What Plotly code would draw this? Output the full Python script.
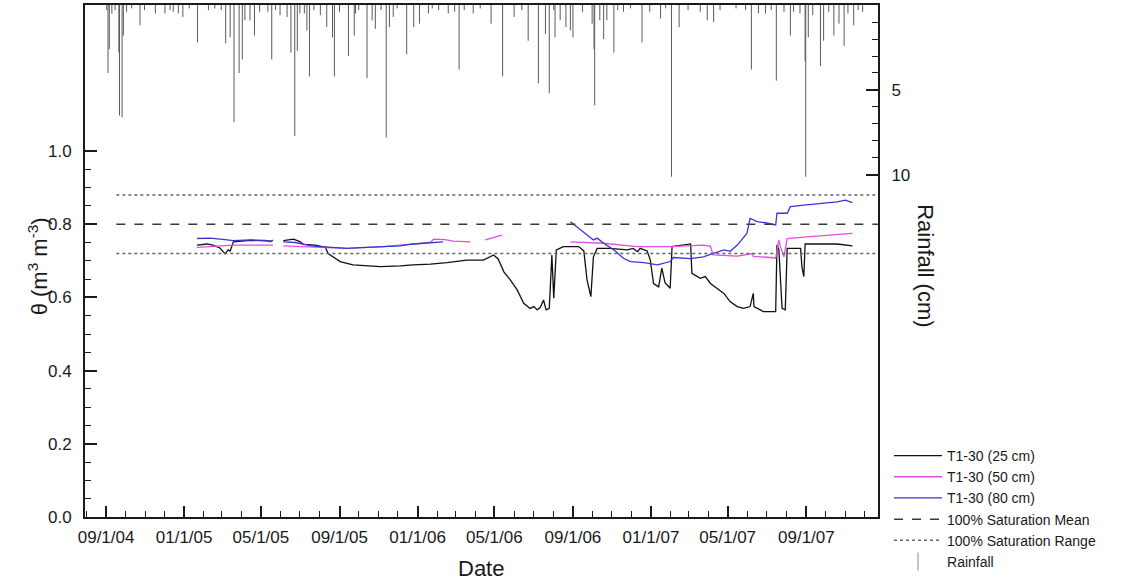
import pandas as pd
import plotly.graph_objects as go

BASE = pd.Timestamp("2004-09-01")  # day 0 of the day-offset arrays

# ---- soil water content, T1-30 (day offset from 09/1/04, theta m3/m3) ----
black_days = [142,158,167,178,186,191,194,199,225,260,269,277,293,304,308,327,343,347,357,366,
              386,429,460,480,507,533,564,590,606,613,622,632,643,653,663,669,674,679,684,688,
              693,697,700,704,715,739,747,752,758,762,768,788,815,824,831,835,846,851,856,864,
              869,874,882,885,914,916,929,937,945,955,966,976,987,997,1007,1012,1013,1028,1047,1049,
              1052,1057,1062,1065,1086,1088,1091,1093,1143,1167]
black_vals = [0.743,0.746,0.743,0.735,0.719,0.730,0.727,0.752,0.756,0.754,None,0.755,0.759,0.752,0.745,0.743,0.737,0.720,0.708,0.698,
              0.689,0.684,0.686,0.689,0.691,0.695,0.702,0.702,0.716,0.705,0.670,0.648,0.620,0.584,0.570,0.575,0.566,0.573,0.593,0.566,
              0.570,0.716,0.598,0.730,0.739,0.739,0.727,0.648,0.602,0.711,0.734,0.734,0.730,0.734,0.725,0.734,0.727,0.702,0.638,0.629,
              0.680,0.640,0.625,0.739,0.746,0.666,0.652,0.657,0.638,0.625,0.611,0.588,0.575,0.570,0.575,0.611,0.575,0.561,0.561,0.743,
              0.730,0.570,0.566,0.734,0.734,0.684,0.657,0.746,0.746,0.741]

magenta_days = [142,171,199,261,269,277,324,377,429,480,507,512,530,543,569,580,593,619,680,
                726,778,830,882,934,945,949,987,1011,1012,1039,1047,1052,1054,1060,1065,1091,1143,1167]
magenta_vals = [0.737,0.740,0.743,0.743,None,0.741,0.738,0.734,0.738,0.747,0.750,0.759,0.758,0.754,0.752,None,0.757,0.770,None,
                0.752,0.748,0.739,0.739,0.743,0.740,0.716,0.713,0.720,0.712,0.709,0.707,0.757,0.740,0.711,0.761,0.765,0.773,0.775]

blue_days = [142,163,186,199,225,249,257,261,269,277,296,324,350,377,397,429,460,480,507,527,600,
             726,742,762,768,778,794,809,820,841,862,882,887,914,934,966,976,987,1002,1007,1018,
             1031,1047,1049,1065,1070,1091,1117,1143,1156,1167]
blue_vals = [0.761,0.762,0.758,0.755,0.757,0.756,0.752,0.757,None,0.752,0.750,0.740,0.737,0.734,0.736,0.738,0.741,0.746,0.749,0.752,None,
             0.807,0.784,0.757,0.762,0.748,0.730,0.707,0.698,0.695,0.689,0.698,0.709,0.706,0.711,0.730,0.726,0.743,0.775,0.816,0.807,
             0.804,0.798,0.830,0.830,0.848,0.852,0.857,0.861,0.866,0.859]

# ---- saturation reference ----
sat_days = [16, 1208]
sat_mean = 0.80
sat_low, sat_high = 0.72, 0.88

# ---- rainfall (day offset, cm) ----
rain_days = [3,5,9,20,21,25,27,53,77,92,105,113,120,143,187,194,200,208,213,217,225,232,253,259,272,283,289,295,299,303,
             314,318,335,345,354,357,379,388,390,408,416,421,438,443,449,470,481,490,504,535,552,574,602,620,638,660,676,687,693,702,
             710,719,726,730,760,763,764,772,778,783,794,809,838,867,884,896,929,940,950,1009,1020,1031,1048,1070,1075,1093,1094,1098,1117,1122,
             1138,1146,1154,1169,1183,
             1,14,32,40,60,100,130,160,170,180,240,265,310,325,365,395,430,455,510,520,545,560,585,650,700,745,800,820,850,875,
             910,960,985,1000,1040,1060,1085,1105,1130,1160,1176]
rain_cm = [4.0,2.6,0.5,2.8,6.5,6.6,1.8,1.2,0.5,0.5,0.4,0.5,0.7,2.2,2.25,1.9,6.9,4.0,3.2,0.9,0.9,1.8,0.4,3.2,0.6,0.7,2.8,7.7,2.7,0.5,
           1.5,4.2,0.6,1.3,1.9,4.2,3.0,1.8,0.5,4.3,0.9,1.4,7.8,1.3,0.7,2.9,1.3,1.1,0.5,0.5,3.8,0.5,1.1,4.2,0.7,2.1,4.6,1.7,5.2,1.9,
           0.9,1.3,1.5,1.9,1.1,2.6,5.9,0.9,2.0,0.9,2.8,0.4,2.2,0.8,10.1,1.3,0.4,0.9,1.0,3.8,0.5,0.5,4.45,1.8,0.4,3.3,10.1,1.9,3.6,2.1,
           1.8,1.1,2.4,1.2,0.4,
           0.3,0.3,0.4,0.2,0.3,0.3,0.2,0.3,0.2,0.3,0.4,0.3,0.5,0.3,0.4,0.3,0.3,0.2,0.2,0.3,0.4,0.3,0.2,0.3,0.3,0.4,0.3,0.2,0.4,0.2,
           0.3,0.3,0.2,0.3,0.3,0.4,0.5,0.6,0.4,0.5,0.3]


def to_dates(days):
    return [BASE + pd.Timedelta(days=d) for d in days]


FONT = "Liberation Sans, Arial, Helvetica, sans-serif"
INK = "#1a1a1a"
RAIN = "#5a5a5a"

fig = go.Figure()

# rainfall as hanging sticks on the reversed right axis
rx, ry = [], []
for d, v in zip(rain_days, rain_cm):
    t = BASE + pd.Timedelta(days=d)
    rx += [t, t, None]
    ry += [0, v, None]
fig.add_trace(go.Scatter(x=rx, y=ry, mode="lines", yaxis="y2", showlegend=False,
                         line=dict(color=RAIN, width=1), hoverinfo="skip"))

sat_x = to_dates(sat_days)
fig.add_trace(go.Scatter(x=to_dates(black_days), y=black_vals, mode="lines", name="T1-30 (25 cm)",
                         line=dict(color="#111111", width=1.3)))
fig.add_trace(go.Scatter(x=to_dates(magenta_days), y=magenta_vals, mode="lines", name="T1-30 (50 cm)",
                         line=dict(color="#e04fe0", width=1.3)))
fig.add_trace(go.Scatter(x=to_dates(blue_days), y=blue_vals, mode="lines", name="T1-30 (80 cm)",
                         line=dict(color="#3a36d6", width=1.3)))
fig.add_trace(go.Scatter(x=sat_x, y=[sat_mean, sat_mean], mode="lines", name="100% Saturation Mean",
                         line=dict(color="#3a3a3a", width=1.5, dash="dash")))
fig.add_trace(go.Scatter(x=sat_x + [None] + sat_x, y=[sat_high, sat_high, None, sat_low, sat_low],
                         mode="lines", name="100% Saturation Range",
                         line=dict(color="#666666", width=1.5, dash="dot")))
fig.add_trace(go.Scatter(x=[None], y=[None], mode="markers", name="Rainfall", yaxis="y2",
                         marker=dict(symbol="line-ns", size=13, line=dict(color="#8a8a8a", width=1))))

fig.update_layout(
    width=1128, height=582,
    margin=dict(l=85, r=250, t=5, b=65, autoexpand=False),
    plot_bgcolor="white", paper_bgcolor="white",
    font=dict(family=FONT, size=17, color=INK),
    xaxis=dict(type="date", range=["2004-07-30", "2007-12-22"],
               showline=True, linecolor=INK, linewidth=2, mirror=True,
               ticks="inside", ticklen=11, tickwidth=1.5, tickcolor=INK,
               tick0="2004-09-01", dtick="M4", tickformat="%m/%-d/%y",
               ticklabelstandoff=4,
               showgrid=False, zeroline=False,
               minor=dict(ticks="inside", ticklen=6, tickwidth=1, tickcolor=INK,
                          tick0="2004-09-01", dtick="M1", showgrid=False)),
    yaxis=dict(range=[0, 1.399], showline=True, linecolor=INK, linewidth=2,
               ticks="inside", ticklen=12, tickwidth=1.5, tickcolor=INK,
               tickmode="array", tickvals=[0, 0.2, 0.4, 0.6, 0.8, 1.0],
               ticktext=["0.0", "0.2", "0.4", "0.6", "0.8", "1.0"],
               ticklabelstandoff=8,
               showgrid=False, zeroline=False,
               minor=dict(ticks="inside", ticklen=6, tickwidth=1, tickcolor=INK, tickmode="array",
                          tickvals=[0.05, 0.1, 0.15, 0.25, 0.3, 0.35, 0.45, 0.5, 0.55,
                                    0.65, 0.7, 0.75, 0.85, 0.9, 0.95], showgrid=False)),
    yaxis2=dict(overlaying="y", side="right", range=[30.12, 0],
                showline=True, linecolor=INK, linewidth=2,
                ticks="inside", ticklen=12, tickwidth=1.5, tickcolor=INK,
                tickmode="array", tickvals=[5, 10], ticktext=["5", "10"],
                ticklabelstandoff=8,
                showgrid=False, zeroline=False,
                minor=dict(ticks="inside", ticklen=6, tickwidth=1, tickcolor=INK, tickmode="array",
                           tickvals=[1, 2, 3, 4, 6, 7, 8, 9], showgrid=False)),
    legend=dict(x=1.0139, xanchor="left", y=0.1505, yanchor="top", itemwidth=48,
                font=dict(family=FONT, size=14, color=INK),
                bgcolor="rgba(0,0,0,0)", tracegroupgap=0),
    annotations=[
        dict(text="θ (m<sup>3</sup> m<sup>-3</sup>)", xref="paper", yref="paper",
             x=-0.059, y=0.49, xanchor="center", yanchor="middle", textangle=-90, showarrow=False,
             font=dict(family=FONT, size=22, color=INK)),
        dict(text="Rainfall (cm)", xref="paper", yref="paper",
             x=1.0605, y=0.49, xanchor="center", yanchor="middle", textangle=90, showarrow=False,
             font=dict(family=FONT, size=22, color=INK)),
        dict(text="Date", xref="paper", yref="paper", x=0.4995, y=-0.1,
             xanchor="center", yanchor="middle",
             showarrow=False, font=dict(family=FONT, size=22, color=INK)),
    ],
)

fig.write_html("out.html")
